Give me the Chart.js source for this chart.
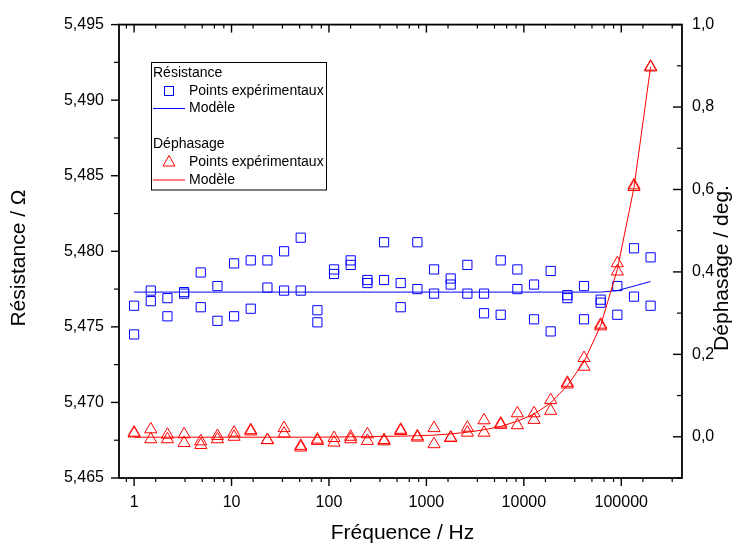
<!DOCTYPE html>
<html>
<head>
<meta charset="utf-8">
<script src="https://cdn.jsdelivr.net/npm/chart.js@4"></script>
<style>
  body { margin: 0; background: #fff; }
  canvas { display: block; }
</style>
</head>
<body>
<canvas id="chart" width="748" height="544"></canvas>
<script>
// frequencies (Hz), 32 log-spaced points from 1 Hz to 200 kHz
const freq = [1, 1.483, 2.199, 3.26, 4.834, 7.168, 10.62, 15.75, 23.35, 34.63, 51.32, 76.08,
  112.8, 167.2, 248.0, 367.6, 545.0, 808.0, 1198, 1776, 2633, 3904, 5789, 8583,
  12726, 18861, 27960, 41450, 61460, 91100, 135100, 200000];

// resistance, two measurement runs (ohm)
const resA = [5.4764, 5.4774, 5.4769, 5.4773, 5.4786, 5.4777, 5.4792, 5.4794, 5.4794, 5.4800, 5.4809, 5.4761,
  5.4788, 5.4794, 5.4781, 5.4806, 5.4779, 5.4806, 5.4788, 5.4782, 5.4791, 5.4772, 5.4794, 5.4788,
  5.4778, 5.4787, 5.4771, 5.4777, 5.4768, 5.4777, 5.4802, 5.4796];
const resB = [5.4745, 5.4767, 5.4757, 5.4772, 5.4763, 5.4754, 5.4757, 5.4762, 5.4776, 5.4774, 5.4774, 5.4753,
  5.4785, 5.4791, 5.4779, 5.4781, 5.4763, 5.4775, 5.4772, 5.4778, 5.4772, 5.4759, 5.4758, 5.4775,
  5.4755, 5.4747, 5.4769, 5.4755, 5.4766, 5.4758, 5.4770, 5.4764];
const resModel = [5.4773, 5.4773, 5.4773, 5.4773, 5.4773, 5.4773, 5.4773, 5.4773, 5.4773, 5.4773, 5.4773, 5.4773,
  5.4773, 5.4773, 5.4773, 5.4773, 5.4773, 5.4773, 5.4773, 5.4773, 5.4773, 5.4773, 5.4773, 5.4773,
  5.4773, 5.4773, 5.4773, 5.4773, 5.4773, 5.4774, 5.4777, 5.4780];

// phase shift, two runs (deg)
const phaseA = [0.010, 0.018, 0.005, 0.006, -0.011, 0.002, 0.010, 0.016, -0.008, 0.021, -0.022, -0.007,
  -0.003, 0.000, 0.006, -0.008, 0.017, 0.001, 0.021, -0.002, 0.022, 0.040, 0.032, 0.057,
  0.057, 0.089, 0.131, 0.191, 0.272, 0.421, 0.610, 0.898];
const phaseB = [0.008, -0.006, -0.006, -0.015, -0.020, -0.006, 0.000, 0.013, -0.008, 0.008, -0.026, -0.010,
  -0.014, -0.006, -0.010, -0.011, 0.014, -0.002, -0.018, -0.003, 0.010, 0.010, 0.029, 0.028,
  0.041, 0.063, 0.127, 0.170, 0.268, 0.401, 0.606, 0.896];
const phaseModel = [-0.001, -0.001, -0.001, -0.001, -0.001, -0.001, -0.001, -0.001, -0.001, -0.001, -0.001, -0.001,
  -0.0005, -0.0002, 0.0002, 0.001, 0.0015, 0.0025, 0.004, 0.007, 0.011, 0.017, 0.025, 0.038,
  0.055, 0.082, 0.124, 0.182, 0.270, 0.406, 0.605, 0.898];

const xTicks = [1, 10, 100, 1000, 10000, 100000];
const resTicks = [5.465, 5.470, 5.475, 5.480, 5.485, 5.490, 5.495];
const phaseTicks = [0.0, 0.2, 0.4, 0.6, 0.8, 1.0];

const FONT = "'Liberation Sans', Arial, sans-serif";

function pts(ys) {
  return freq.map((f, i) => ({ x: f, y: ys[i] }));
}

// box, tick marks, axis titles and grouped legend in the Origin style
const originFrame = {
  id: 'originFrame',
  afterDraw(chart) {
    const ctx = chart.ctx;
    const a = chart.chartArea;
    const sx = chart.scales.x, sy = chart.scales.y, sp = chart.scales.y2;
    ctx.save();
    ctx.strokeStyle = '#000';

    function line(x1, y1, x2, y2, w) {
      ctx.lineWidth = w;
      ctx.beginPath();
      ctx.moveTo(x1, y1);
      ctx.lineTo(x2, y2);
      ctx.stroke();
    }

    // x ticks, bottom outward and top inward
    const minorMult = [1 / 6, 2 / 6, 3 / 6, 4 / 6, 5 / 6];
    for (let n = -1; n <= 5; n++) {
      const dec = Math.pow(10, n);
      if (dec >= sx.min && dec <= sx.max) {
        const px = sx.getPixelForValue(dec);
        line(px, a.bottom, px, a.bottom + 8, 1.4);
        line(px, a.top, px, a.top + 8, 1.4);
      }
      minorMult.forEach(m => {
        const v = dec * 10 * m;
        if (v < sx.min || v > sx.max) return;
        const px = sx.getPixelForValue(v);
        line(px, a.bottom, px, a.bottom + 4, 1.2);
        line(px, a.top, px, a.top + 4, 1.2);
      });
    }

    // left ticks, outward
    for (let i = 0; i < resTicks.length; i++) {
      const py = sy.getPixelForValue(resTicks[i]);
      line(a.left - 8, py, a.left, py, 1.4);
      if (i < resTicks.length - 1) {
        const pm = sy.getPixelForValue((resTicks[i] + resTicks[i + 1]) / 2);
        line(a.left - 5, pm, a.left, pm, 1.2);
      }
    }

    // right ticks, inward
    for (let i = 0; i < phaseTicks.length; i++) {
      const py = sp.getPixelForValue(phaseTicks[i]);
      line(a.right - 9, py, a.right, py, 1.4);
      const pm = sp.getPixelForValue(phaseTicks[i] - 0.1);
      line(a.right - 5, pm, a.right, pm, 1.2);
    }

    // frame
    ctx.lineWidth = 1.8;
    ctx.strokeRect(a.left, a.top, a.right - a.left, a.bottom - a.top);

    // axis titles
    ctx.fillStyle = '#000';
    ctx.font = '21px ' + FONT;
    ctx.textAlign = 'center';
    ctx.textBaseline = 'middle';
    ctx.fillText('Fréquence / Hz', (a.left + a.right) / 2 + 2, 533);
    ctx.save();
    ctx.translate(19, 258);
    ctx.rotate(-Math.PI / 2);
    ctx.fillText('Résistance / Ω', 0, 0);
    ctx.restore();
    ctx.save();
    ctx.translate(722, 268);
    ctx.rotate(-Math.PI / 2);
    ctx.fillText('Déphasage / deg.', 0, 0);
    ctx.restore();

    // legend
    ctx.lineWidth = 1;
    ctx.strokeStyle = '#000';
    ctx.strokeRect(151.5, 62.5, 175, 127.5);
    ctx.font = '14px ' + FONT;
    ctx.textAlign = 'left';
    ctx.fillStyle = '#000';
    ctx.fillText('Résistance', 153, 73);
    ctx.fillText('Points expérimentaux', 189, 91);
    ctx.fillText('Modèle', 189, 108.5);
    ctx.fillText('Déphasage', 153, 144.5);
    ctx.fillText('Points expérimentaux', 189, 162.5);
    ctx.fillText('Modèle', 189, 180);

    ctx.strokeStyle = '#0000ff';
    ctx.strokeRect(164.5, 86.5, 9, 9);
    line(153, 108.5, 185, 108.5, 1);

    ctx.strokeStyle = '#ff0000';
    ctx.lineWidth = 1;
    ctx.beginPath();
    ctx.moveTo(169, 155.5);
    ctx.lineTo(175, 166);
    ctx.lineTo(163, 166);
    ctx.closePath();
    ctx.stroke();
    line(153, 180, 185, 180, 1);

    ctx.restore();
  }
};

new Chart(document.getElementById('chart'), {
  type: 'scatter',
  data: {
    datasets: [
      {
        label: 'Modèle (déphasage)',
        data: pts(phaseModel),
        yAxisID: 'y2',
        showLine: true,
        borderColor: '#ff0000',
        borderWidth: 1,
        pointRadius: 0,
        order: 0
      },
      {
        label: 'Points expérimentaux (déphasage)',
        data: pts(phaseA).concat(pts(phaseB)),
        yAxisID: 'y2',
        pointStyle: 'triangle',
        pointRadius: 7,
        borderColor: '#ff0000',
        backgroundColor: 'rgba(0,0,0,0)',
        borderWidth: 1,
        order: 1
      },
      {
        label: 'Modèle (résistance)',
        data: pts(resModel),
        yAxisID: 'y',
        showLine: true,
        borderColor: '#0000ff',
        borderWidth: 1,
        pointRadius: 0,
        order: 2
      },
      {
        label: 'Points expérimentaux (résistance)',
        data: pts(resA).concat(pts(resB)),
        yAxisID: 'y',
        pointStyle: 'rect',
        pointRadius: 6.5,
        borderColor: '#0000ff',
        backgroundColor: 'rgba(0,0,0,0)',
        borderWidth: 1,
        order: 3
      }
    ]
  },
  options: {
    responsive: false,
    animation: false,
    devicePixelRatio: 1,
    layout: { padding: { top: 22, left: 0, right: 0, bottom: 0 } },
    plugins: {
      legend: { display: false },
      tooltip: { enabled: false }
    },
    scales: {
      x: {
        type: 'logarithmic',
        min: 0.7,
        max: 420000,
        grid: { display: false, drawTicks: false },
        border: { display: false },
        afterBuildTicks: s => { s.ticks = xTicks.map(v => ({ value: v })); },
        afterFit: s => { s.height = 66; },
        ticks: {
          padding: 15,
          color: '#000',
          font: { family: FONT, size: 16 },
          maxRotation: 0,
          autoSkip: false,
          callback: v => String(v)
        }
      },
      y: {
        type: 'linear',
        position: 'left',
        min: 5.465,
        max: 5.495,
        grid: { display: false, drawTicks: false },
        border: { display: false },
        afterBuildTicks: s => { s.ticks = resTicks.map(v => ({ value: v })); },
        afterFit: s => { s.width = 119; },
        ticks: {
          padding: 15,
          color: '#000',
          font: { family: FONT, size: 16 },
          callback: v => v.toFixed(3).replace('.', ',')
        }
      },
      y2: {
        type: 'linear',
        position: 'right',
        min: -0.1,
        max: 1.0,
        grid: { display: false, drawTicks: false },
        border: { display: false },
        afterBuildTicks: s => { s.ticks = phaseTicks.map(v => ({ value: v })); },
        afterFit: s => { s.width = 66; },
        ticks: {
          padding: 10,
          color: '#000',
          font: { family: FONT, size: 16 },
          callback: v => v.toFixed(1).replace('.', ',')
        }
      }
    }
  },
  plugins: [originFrame]
});
</script>
</body>
</html>
